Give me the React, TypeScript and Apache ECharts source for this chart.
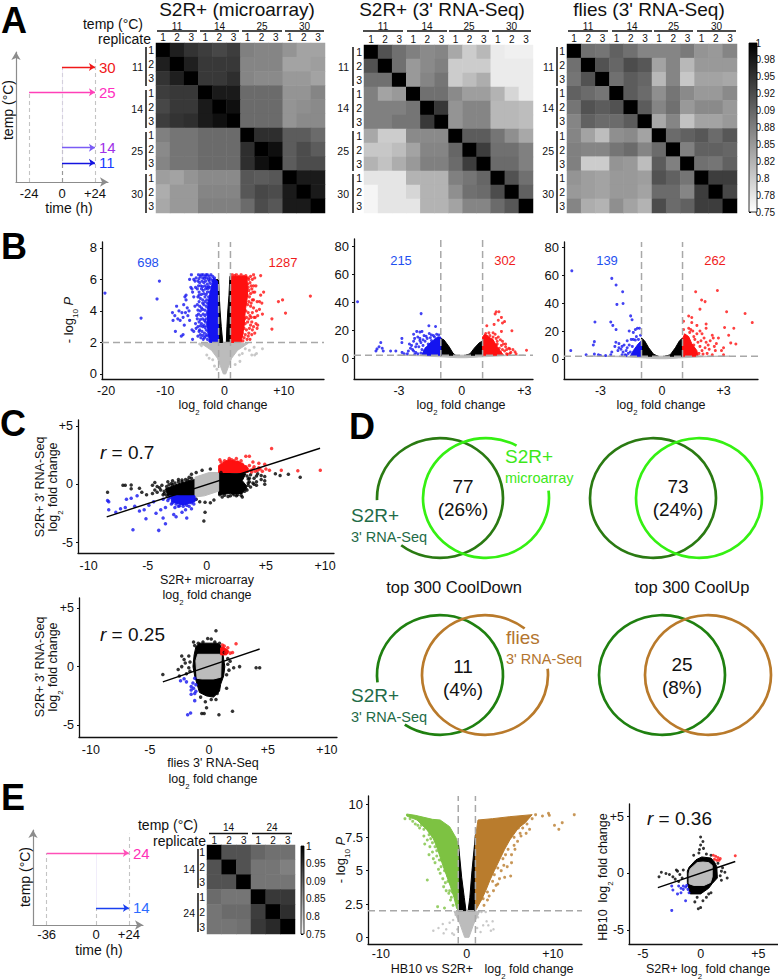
import React, { useEffect, useRef } from "react";
import * as echarts from "echarts";

const FONT = "Liberation Sans, Arial, sans-serif";

// ---------- heatmap values ----------
const replicateLabels = ["1", "2", "3"];
const tempGroupsA = ["11", "14", "25", "30"];
const tempGroupsE = ["14", "24"];
const microarrayCorr = [
  [1, .97, .95, .94, .93, .94, .875, .87, .87, .855, .84, .84],
  [.97, 1, .97, .945, .945, .945, .87, .87, .87, .84, .84, .845],
  [.95, .97, 1, .945, .945, .955, .87, .865, .865, .85, .85, .84],
  [.94, .945, .945, 1, .975, .975, .895, .895, .895, .855, .855, .87],
  [.93, .945, .945, .975, 1, .985, .895, .895, .895, .855, .86, .865],
  [.94, .95, .955, .975, .985, 1, .895, .895, .895, .855, .865, .865],
  [.875, .885, .885, .895, .895, .895, 1, .955, .955, .91, .91, .895],
  [.865, .885, .885, .895, .895, .895, .955, 1, .985, .91, .925, .91],
  [.87, .885, .885, .895, .895, .895, .955, .985, 1, .91, .925, .925],
  [.845, .84, .855, .865, .865, .865, .915, .91, .915, 1, .975, .975],
  [.83, .85, .85, .87, .87, .87, .915, .93, .925, .975, 1, .975],
  [.835, .85, .85, .875, .875, .875, .895, .925, .915, .975, .975, 1],
];
const s2rSeqCorr = [
  [1, .92, .89, .875, .865, .87, .835, .80, .82, .77, .765, .765],
  [.92, 1, .89, .85, .865, .875, .80, .80, .80, .77, .77, .77],
  [.89, .89, 1, .85, .87, .885, .80, .815, .83, .77, .77, .77],
  [.875, .84, .85, 1, .89, .89, .865, .845, .845, .825, .79, .77],
  [.875, .875, .875, .885, 1, .945, .855, .87, .87, .82, .82, .815],
  [.875, .875, .885, .885, .945, 1, .855, .87, .87, .82, .82, .815],
  [.835, .80, .80, .865, .865, .865, 1, .91, .91, .885, .86, .835],
  [.805, .805, .815, .84, .87, .87, .90, 1, .94, .89, .89, .875],
  [.825, .81, .83, .85, .875, .875, .895, .94, 1, .895, .895, .875],
  [.775, .775, .775, .825, .825, .825, .875, .885, .90, 1, .92, .89],
  [.76, .775, .775, .79, .825, .825, .86, .89, .895, .925, 1, .905],
  [.76, .775, .775, .775, .825, .825, .84, .87, .87, .895, .915, 1],
];
const fliesCorr = [
  [1, .89, .885, .905, .89, .87, .87, .87, .88, .855, .85, .87],
  [.89, 1, .92, .90, .925, .915, .84, .87, .82, .85, .85, .85],
  [.885, .92, 1, .89, .91, .90, .82, .87, .805, .84, .84, .835],
  [.905, .895, .885, 1, .91, .895, .86, .885, .865, .85, .85, .865],
  [.885, .92, .91, .92, 1, .91, .87, .89, .85, .865, .865, .85],
  [.87, .905, .895, .895, .91, 1, .835, .87, .81, .84, .84, .85],
  [.87, .84, .815, .86, .865, .84, 1, .895, .905, .915, .895, .915],
  [.875, .87, .87, .885, .895, .87, .895, 1, .875, .905, .905, .90],
  [.875, .80, .80, .855, .85, .815, .91, .875, 1, .89, .885, .905],
  [.855, .845, .84, .85, .85, .845, .92, .905, .885, 1, .94, .94],
  [.85, .845, .84, .85, .85, .84, .895, .895, .87, .94, 1, .93],
  [.87, .83, .825, .86, .84, .825, .925, .895, .905, .94, .94, 1],
];
const hb10Corr = [
  [1, .92, .92, .90, .89, .89],
  [.92, 1, .92, .885, .885, .875],
  [.92, .92, 1, .885, .885, .885],
  [.895, .885, .885, 1, .945, .945],
  [.885, .895, .895, .94, 1, .955],
  [.885, .885, .89, .945, .96, 1],
];
const colorbarTicksA = ["1", "0.98", "0.95", "0.92", "0.09", "0.88", "0.85", "0.82", "0.8", "0.78", "0.75"];
const colorbarTicksE = ["1", "0.95", "0.09", "0.85", "0.8", "0.75"];

// ---------- timelines ----------
const aTemps = [30, 25, 14, 11];
const aStarts = [0, -24, 0, 0];
const aEnd = 24;
const eTemps = [24, 14];
const eStarts = [-36, 0];
const eEnd = 24;
const aTimeTicks = [-24, 0, 24];
const eTimeTicks = [-36, 0, 24];

// ---------- axis ticks ----------
const b1XTicks = [-20, -10, 0, 10];
const b1YTicks = [0, 2, 4, 6, 8];
const b2XTicks = [-3, 0, 3];
const b2YTicks = [0, 20, 40, 60, 80];
const cXTicks = [-10, -5, 0, 5, 10];
const cYTicks = [-5, 0, 5];
const e3XTicks = [-10, 0, 10];
const e3YTicks = [0, 2.5, 5, 7.5, 10];
const e4XTicks = [-5, 0, 5];

// ---------- B1 volcano ----------
const b1GrayCore = [[-.2, 0], [.2, 0], [.7, .5], [1.2, 1], [2.2, 1.5], [4, 1.95], [-4, 1.95], [-2.2, 1.5], [-1.2, 1], [-.7, .5]];
const b1BlackL = [[-1, 2], [-.3, 2], [-.55, 3], [-.75, 4], [-.9, 5], [-1, 6], [-1.4, 6], [-1.1, 4]];
const b1BlackR = [[.3, 2], [1.1, 2], [1.1, 6.2], [.9, 6.2], [.75, 5], [.55, 4], [.4, 3]];
const b1BlueCore = [[-1, 2], [-2.5, 2], [-2.9, 3], [-2.8, 4.5], [-2.3, 5.4], [-1.9, 6.1], [-1.2, 5.9], [-1.1, 4]];
const b1RedCore = [[1.1, 2], [2.8, 2], [3.3, 3], [3.5, 4], [3.9, 5], [3.8, 6.2], [1.2, 6.2]];
const b1Gray = [[3, 1.8], [3.5, 1.6], [4.2, 1.5], [5, 1.7], [5.4, 1.3], [6.4, 1.6], [-2.5, 1.9], [-3.3, 1.9], [-3.9, 1.8], [-4.2, 1.9], [-2, .9], [-2.6, 1], [-3, 1.2], [2.5, 1.2], [-1.7, .5], [1.8, .6], [3, 1.3], [2.6, .8], [-1.3, .3], [5.1, 1.2], [4.6, 1.2]];
const b1Blue = [[-20.2, 5.14], [-11, 5.9], [-11.4, 4.76], [-14.1, 3.55], [-8.8, 3.9], [-8.7, 3.4], [-8.4, 3.7], [-8.1, 4.3], [-7.9, 3.5], [-7.7, 4], [-7.5, 3.4], [-7.2, 3.9], [-7, 3.6], [-6.9, 4.4], [-6.8, 3.1], [-6.6, 3.9], [-6.5, 4.7], [-6.3, 4.2], [-6.2, 3.7], [-6, 4], [-5.9, 3.4], [-7, 2.5], [-7.3, 2.4], [-8.3, 2.7], [-5.5, 2.8], [-5.2, 2.7], [-5.7, 5.5], [-5.6, 6.3], [-5.9, 6], [-5.4, 5.2], [-5.2, 6], [-5, 5.9], [-4.8, 6.1], [-5.5, 5.4], [-4.9, 5.5], [-5.2, 4.9], [-6.5, 5], [-6.7, 4.9], [-5, 4.3], [-4.9, 3.2], [-4.7, 3.7], [-4.8, 2.9], [-4.5, 2.4], [-4.3, 2.7], [-5.4, 2.2], [-4.4, 6.3], [-4.1, 6.2], [-3.9, 6.3], [-3.6, 6.3], [-3.3, 6.2], [-3.1, 6.3], [-2.9, 6.3], [-2.6, 6.2], [-2.3, 6.3], [-2, 6.2], [-1.7, 6.1], [-4.5, 5.9], [-4.2, 5.8], [-3.8, 5.9], [-3.5, 5.8], [-3.2, 5.9], [-2.9, 5.7], [-2.6, 5.9], [-4.6, 5.4], [-4.3, 5.2], [-3.9, 5.4], [-3.6, 5.3], [-3.2, 5.4], [-2.9, 5.2], [-2.5, 5.5], [-4.5, 4.9], [-4.1, 4.8], [-3.7, 4.7], [-3.3, 4.9], [-3, 4.7], [-2.7, 4.9], [-4.6, 4.4], [-4.2, 4.3], [-3.9, 4.2], [-3.5, 4.4], [-3.1, 4.3], [-2.8, 4.2], [-4.4, 3.8], [-4, 3.7], [-3.6, 3.8], [-3.3, 3.7], [-3, 3.8], [-2.7, 3.6], [-4.3, 3.3], [-3.9, 3.2], [-3.5, 3.1], [-3.2, 3.3], [-2.9, 3.2], [-4.2, 2.8], [-3.8, 2.7], [-3.4, 2.6], [-3.1, 2.8], [-2.8, 2.7], [-4, 2.3], [-3.6, 2.2], [-3.2, 2.4], [-2.9, 2.2], [-2.5, 2.1],
  [-4.3, 6.05], [-3.7, 6.1], [-3.4, 6.05], [-3, 6.1], [-2.7, 6], [-2.4, 6.05], [-2.1, 5.95], [-4.4, 5.6], [-4, 5.6], [-3.7, 5.55], [-3.3, 5.6], [-3, 5.5], [-2.7, 5.55], [-2.4, 5.75], [-4.3, 5], [-3.9, 5.05], [-3.5, 5.1], [-3.1, 5.05], [-2.8, 5.4], [-2.5, 5.2], [-4.3, 4.6], [-3.7, 4.5], [-3.3, 4.6], [-2.9, 4.5], [-4.5, 4.05], [-4.1, 4], [-3.7, 4.1], [-3.3, 4.05], [-2.9, 3.95], [-4.6, 3.5], [-4.1, 3.45], [-3.7, 3.5], [-3.4, 3.4], [-3.1, 3.5], [-4.5, 3], [-4.1, 3.05], [-3.7, 3], [-3.3, 2.95], [-3, 3.05], [-4.1, 2.5], [-3.7, 2.45], [-3.4, 2.3], [-3, 2.5], [-2.7, 2.4]];
const b1Red = [[1.3, 6.3], [1.7, 6.25], [2, 6.3], [2.4, 6.2], [2.8, 6.3], [3.2, 6.2], [3.6, 6.25], [4, 6.1], [4.4, 6.2], [4.9, 6.3], [5.1, 6.1], [4.7, 6], [6.1, 6.25], [3.9, 5.7], [4.3, 5.8], [4.1, 5.3], [4.6, 5.4], [3.8, 5], [4.2, 4.9], [4.7, 4.7], [5.1, 5.2], [5.5, 4.6], [5.9, 4.6], [5.3, 5.6], [6.1, 5], [6.6, 5.2], [6.3, 4.5], [4.4, 4.3], [4.9, 4.2], [5.4, 4], [5.9, 4.1], [5.2, 3.6], [5.6, 3.7], [6.4, 3.8], [3.6, 4], [4, 3.9], [4.5, 3.6], [3.4, 3.5], [3.9, 3.3], [4.4, 3.1], [4.9, 3], [5.3, 3.2], [5.6, 3.1], [3.3, 2.9], [3.7, 2.8], [4.1, 2.6], [4.6, 2.5], [5.1, 2.6], [5.5, 2.9], [2.9, 2.4], [3.3, 2.3], [3.8, 2.2], [4.3, 2.2], [3.1, 2.1], [9.1, 4.6], [9.8, 4.7], [14.5, 4.95], [10.3, 3.87], [8, 3.5], [8, 2.85],
  [4.1, 6], [4.5, 5.6], [4.9, 5.6], [4, 5.5], [4.4, 5.1], [4.8, 5.2], [4.1, 4.6], [4.5, 4.5], [4.9, 4.7], [3.9, 4.4], [4.3, 3.7], [4.7, 3.9], [3.7, 3.6], [4.1, 3.5], [4.6, 3.3], [5, 3.6], [3.5, 3.2], [4.2, 2.9], [4.7, 2.8], [3.5, 2.5], [4, 2.4], [3, 2.6]];

// ---------- B2 volcano ----------
const b2GrayCore = [[-3.1, 2], [3, 2], [2, 1.6], [.8, .7], [.2, .2], [-.2, .2], [-.8, .7], [-2, 1.6]];
const b2BlackL = [[-1, 2], [-1, 14], [-.85, 13], [-.6, 8], [-.42, 3.5], [-.3, 2]];
const b2BlackR = [[1, 2], [1, 12], [.85, 11], [.6, 7], [.4, 3], [.2, 2]];
const b2BlueCore = [[-1, 2], [-1.9, 2], [-1.8, 6], [-1.5, 11], [-1.15, 15], [-1, 15]];
const b2RedCore = [[1, 2], [2, 2], [1.7, 8], [1.5, 13], [1.1, 17], [1, 15]];
const b2Blue = [[-4.98, 40.2], [-1.94, 31.7], [-1.57, 23], [-1.25, 22.5], [-2.86, 14], [-2.86, 11], [-3.87, 11], [-3.95, 8], [-4.05, 6.5], [-4.1, 5], [-3.75, 5], [-3.8, 7], [-3.4, 5], [-3.15, 5], [-2.85, 4], [-2.75, 3], [-2.55, 5], [-2.45, 7], [-2.4, 9], [-2.3, 12], [-2.3, 17], [-2.15, 19], [-2, 18.5], [-1.9, 19], [-2.1, 15], [-2, 14], [-1.95, 11], [-2.05, 8], [-1.9, 6], [-2.2, 4], [-2.1, 3], [-1.95, 3.5], [-1.75, 12], [-1.65, 14], [-1.8, 16], [-1.6, 10], [-1.5, 14.5], [-1.35, 16], [-1.2, 17], [-1.1, 16.5], [-1.45, 12.5], [-1.3, 15], [-2.35, 6], [-2.5, 10], [-2.25, 14], [-1.55, 17.5], [-1.7, 7], [-1.85, 9], [-2.6, 3], [-2.25, 2.5], [-2.15, 10], [-2.2, 8], [-2.3, 5], [-2, 12.5], [-1.85, 13], [-1.7, 15.5], [-1.45, 16.5]];
const b2Red = [[1.65, 33], [1.78, 33], [1.6, 31.5], [1.9, 29], [2.05, 26], [1.75, 27], [1.95, 25], [1.55, 24], [1.2, 23], [2.4, 19.5], [1.9, 19], [1.5, 18], [1.6, 17], [1.3, 18], [1.15, 17.5], [1.75, 15], [1.85, 13], [1.65, 14], [1.95, 12], [2, 10], [1.9, 9], [2.1, 8], [2.25, 7], [2.3, 6.5], [2.45, 6], [2.55, 4.5], [2.6, 3], [1.95, 6], [1.85, 4], [2.05, 5], [2.15, 3], [2.35, 4], [2.2, 2.5], [1.7, 10], [1.8, 7], [1.7, 12], [3.1, 5.5], [1.5, 15], [1.35, 16], [1.45, 13], [1.65, 9], [1.2, 15.5], [2.15, 6], [2.1, 10], [2.3, 3.2]];

// ---------- B3 volcano ----------
const b3GrayCore = [[-3.5, 2], [3.3, 2], [2, 1.6], [.8, .7], [.2, .2], [-.2, .2], [-.8, .7], [-2, 1.6]];
const b3BlackL = [[-1, 2], [-1, 15], [-.85, 13], [-.65, 8], [-.42, 3.5], [-.2, 2]];
const b3BlackR = [[1, 2], [1, 15], [.85, 13], [.65, 8], [.4, 3], [.15, 2]];
const b3BlueCore = [[-1, 2], [-1.55, 2], [-1.4, 6], [-1.15, 11], [-1, 13]];
const b3RedCore = [[1, 2], [1.75, 2], [1.7, 6], [1.45, 11], [1.3, 16], [1.1, 18], [1, 14]];
const b3Blue = [[-4.4, 63], [-2.45, 57.6], [-2.24, 52.9], [-1.92, 48], [-2.2, 39], [-1.9, 39.7], [-1.53, 30.8], [-1.46, 28], [-3.27, 26.4], [-2.5, 26.4], [-2.4, 24], [-2.24, 21], [-4.45, 6], [-3.3, 12.4], [-3.35, 10], [-3.7, 3], [-3.3, 3.5], [-3.1, 3], [-3, 2.5], [-2.75, 2.5], [-2.5, 3], [-2.45, 5], [-2.25, 12], [-2.1, 11], [-2.1, 8], [-2, 7], [-2.15, 6], [-1.95, 9], [-1.85, 10], [-1.75, 6], [-1.7, 8], [-1.65, 4], [-1.8, 3], [-1.55, 5], [-1.6, 20], [-1.4, 19], [-1.3, 21], [-1.2, 22], [-1.1, 22], [-1.5, 14], [-1.4, 14], [-1.3, 13.5], [-1.15, 14], [-1.05, 17], [-1.25, 16], [-1.7, 13], [-1.6, 10], [-1.45, 9], [-2.3, 9], [-1.9, 5], [-1.75, 2.5], [-1.95, 3]];
const b3Red = [[1.64, 48], [2.7, 48.9], [1.93, 42.2], [2.1, 41], [1.85, 35.6], [3.15, 33.8], [4.05, 32.5], [4.4, 26], [1.3, 30.7], [1.45, 29.6], [1.05, 27], [1.45, 26], [1.7, 24], [2.15, 25], [2.15, 22], [3.05, 22.5], [3.5, 22], [3.25, 17], [3.35, 11.5], [3.6, 10.7], [3, 8], [2.9, 6], [2.5, 15], [2.75, 15], [2.45, 17], [2.35, 13], [2.1, 8], [2.3, 7], [2.6, 6], [3, 3], [1.3, 22], [1.4, 21], [1.35, 19], [1.5, 20], [1.7, 18], [1.85, 20], [1.95, 18], [2.05, 15], [1.9, 13], [1.75, 12], [2.15, 12], [2.25, 10], [1.85, 9], [1.95, 6], [1.8, 4], [2, 3.5], [2.2, 4], [2.45, 3], [2.55, 9], [2.65, 11], [1.55, 16], [1.6, 14], [1.55, 10], [1.05, 21]];

// ---------- C1 scatter ----------
const c1Line = [[-8.47, -2.8], [9.58, 3.08]];
const c1GrayCore = [[-1, -1.1], [-.2, -1], [1, -.6], [1, 1], [.2, 1], [-1, .6]];
const c1BlackL = [[-1, -1.1], [-2.5, -1], [-3.3, -1], [-3.5, -.4], [-2.5, 0], [-1.5, .3], [-1, .4]];
const c1BlackR = [[1, -.9], [2, -.8], [3, -.8], [3.4, -.2], [3, .3], [3.3, .9], [1, 1]];
const c1RedCore = [[1, 1], [3.5, 1], [3.5, 1.4], [2.8, 1.9], [1.8, 2.1], [1, 1.6]];
const c1BlueCore = [[-1, -1], [-3, -1], [-3, -1.5], [-2, -1.8], [-1, -1.5]];
const c1Red = [[5.48, 3.05], [9.6, 1.2], [7.7, 1.15], [6.3, 1.2], [3.3, 2.4], [3.6, 2.4], [1.1, 2.1], [2.9, 2], [3.9, 1.9], [4.4, 1.8], [4.9, 1.7], [4.5, 1.3], [5, 1.3], [5.3, 1.2], [4, 1.5], [3.7, 1.2], [4.3, 1.2], [2.5, 2.2], [1.9, 2.2], [1.2, 1.9], [1.5, 2], [2.1, 2.1], [2.3, 2], [2.6, 1.9], [3, 1.7], [3.3, 1.5], [3.6, 1.6], [3.9, 1.3], [4.1, 1.1], [3.8, 1.05], [4.4, 1.4], [4.7, 1.1]];
const c1Blue = [[-6.25, -3.9], [-4.07, -3.96], [-3.5, -3.4], [-5.15, -2.96], [-8.4, -1.4], [-8.3, -1.5], [-8.3, -2.2], [-7.7, -2.4], [-7.3, -2.1], [-6.9, -2], [-6.8, -1.3], [-6.4, -1.2], [-5.9, -1], [-6.1, -1.9], [-5.7, -2.3], [-5.3, -2.2], [-4.9, -1.8], [-4.5, -1.5], [-4.3, -2.5], [-3.9, -2.2], [-3.7, -2.9], [-2.8, -2.6], [-2.6, -2.8], [-1.7, -2.9], [-3.5, -2], [-3, -1.7], [-1.8, -2.2], [-1.3, -2.1], [-2.1, -2.4], [-1.1, -1.7], [-2.4, -1.9], [-3.2, -1.2], [-3.7, -1.3], [-1.5, -1.9], [-2.7, -2], [-3.1, -1.1], [-2.9, -1.6], [-2.6, -1.7], [-2.3, -1.85], [-2, -1.9], [-1.7, -1.8], [-1.3, -1.6], [-1, -1.3], [-3.3, -1.4]];
const c1Black = [[-8.4, -.7], [-7.1, -.1], [-6.9, -.1], [-6.4, -.08], [-6.4, -.4], [-5.7, -.35], [-5.5, -.7], [-5.1, -.9], [-4.6, -.1], [-4.4, .15], [-4.2, -.2], [-3.9, -.5], [-3.6, -.8], [-3.8, -.1], [-4.6, -.8], [-3.3, .2], [-2.9, .3], [-2.4, .4], [-2.1, .2], [-1.5, .6], [-1.3, .85], [-.25, -3.16], [-.15, -2.4], [-.15, -1.55], [.6, -1.35], [.3, -1.6], [-.6, -1.5], [-.9, -1.3], [4.9, .65], [5.8, .9], [6.2, .75], [6.9, .85], [7.9, .6], [4.9, 0], [4, 0], [2.2, -.8], [3.6, .5], [4.2, .7], [4.6, .4], [3.3, -.4], [3, -1.1], [2.5, -1], [1.8, -1.05], [4.9, .3], [4.2, .2], [3.5, .1], [3.7, -.25], [1.3, -1.1], [1.1, -.9], [-.4, 1.2], [-.9, 1], [.3, 1.3], [-3.6, -.6], [-3.4, -.2], [-3.2, -.05], [-3, .05], [-2.7, .1], [-2.4, .2], [-2.1, .35], [-1.8, .4], [-1.6, .35], [-1.3, .5], [-3.7, -.9], [-3.4, -.95], [-4.2, -.7], [-4, -.3], [-4.4, -.5], [-2.9, -.05], [1.2, 1], [1.5, -.95], [2, -1], [2.3, -.9], [2.6, -.9], [2.9, -.95], [3.2, -.6], [3.4, -.5], [3.5, -.1], [3.6, .2], [3.4, .7], [3.7, .8], [4, .5], [4.3, .9], [4.6, .75], [3.9, .1], [4.2, -.1], [3.1, -.3], [3.5, .45]];

// ---------- C2 scatter ----------
const c2Line = [[-3.9, -1.3], [4.3, 1.5]];
const c2BlackCore = [[-.8, 2], [.7, 2], [1, 1.8], [1.2, 1], [1.35, 0], [1.25, -.8], [1, -1.5], [.9, -2.1], [.4, -2.6], [-.2, -2.5], [-.8, -2.2], [-1, -1.5], [-1.2, -.8], [-1.35, 0], [-1.25, 1], [-1.1, 1.7]];
const c2GrayCore = [[-1, -1], [-.6, -1.05], [.4, -1.05], [1, -.9], [1.05, 1], [.9, 1.05], [-.95, 1.05], [-1.1, .5]];
const c2RedCore = [[1, 1], [1.5, 1], [1.7, 1.3], [1.2, 1.7], [1, 1.6]];
const c2Red = [[2.3, 1.95], [1.3, 1.75], [1.6, 1.6], [2, 1.2], [1.1, 1.5], [1.4, 1.2], [1.8, 1.15], [1.15, 1.85], [1.5, 1.35]];
const c2Blue = [[-1.8, -4.1], [-1.55, -3.96], [-1.2, -2.9], [-1.5, -2.35], [-1.2, -2.3], [-1.5, -1.7], [-1.35, -1.4], [-1.9, -1.3], [-2.1, -1.03], [-2.4, -1.2], [-1.2, -1], [-1.5, -2], [-1.3, -1.85], [-1.1, -1.55], [-1.1, -2.1]];
const c2Black = [[-3.9, -.68], [-2.5, -.8], [-2.6, -.25], [-2.3, 0], [-2.3, .9], [-2.1, .6], [-1.7, -.1], [-1.6, -.4], [2.6, 0], [4, -.1], [4.3, -.1], [2.1, -.1], [1.8, .45], [.6, 3.05], [-.1, 2.4], [.2, 2.35], [-1.3, 2.1], [-1.2, 1.8], [-.6, -4], [-.4, -4], [-.2, -3.5], [.85, -4.1], [2, -3.8], [.2, -2.8], [.6, -2.8], [1.5, -1.85], [-.3, -3], [.7, -2.3], [-.7, -2.6], [-1.6, .4], [-1.7, .9], [-2, .3], [-1.9, -.6], [1.7, -.3], [1.6, .2], [1.5, -.7], [1.6, .7], [1.3, 1.2], [-.5, 2.1], [.5, 2.1], [-.9, 2], [.9, 2]];

// ---------- E volcano ----------
const e3GrayCore = [[-1.5, 1.95], [1.5, 1.95], [.8, 1], [.25, 0], [-.25, 0], [-.8, 1]];
const e3BlackL = [[-1, 2], [-.1, 2], [-.3, 3], [-.6, 4.5], [-.9, 6.5], [-1, 7.2]];
const e3BlackR = [[.15, 2], [1, 2], [1, 7.7], [.9, 7], [.6, 5], [.35, 3]];
const e3GreenCore = [[-7, 9.25], [-6, 9.15], [-5, 9], [-4, 8.85], [-3.1, 8.8], [-2, 8.3], [-1.2, 7.4], [-1, 6.8], [-1, 2], [-1.2, 2.2], [-1.5, 3], [-1.9, 3.8], [-2.4, 4.7], [-2.9, 5.6], [-3.4, 6.6], [-3.9, 7.4], [-4.7, 8.1], [-5.8, 8.8], [-7, 9.1]];
const e3BrownCore = [[1, 2], [1, 7.5], [1.3, 8.8], [3, 8.9], [5, 9.05], [7.6, 9.2], [6.8, 8.6], [6, 8.2], [5, 7.3], [4.4, 6.6], [3.8, 5.8], [3.2, 5], [2.7, 4.3], [2.2, 3.5], [1.7, 2.8], [1.1, 2.1]];
const e3Green = [[-7.2, 8.9], [-4.6, 4.3], [-3.4, 2.3], [-2.6, 2.2], [-5, 7.6], [-4.9, 7], [-4.6, 7.3], [-4.3, 6.8], [-4.4, 6.2], [-4, 6.4], [-3.9, 5.9], [-3.7, 5.6], [-3.5, 6.1], [-3.3, 5.1], [-3.1, 4.8], [-3, 5.3], [-2.8, 4.4], [-2.5, 4.1], [-2.4, 3.5], [-2.1, 3.3], [-1.9, 2.8], [-1.8, 3], [-1.6, 2.4], [-6, 8.5], [-5.5, 8.2], [-5.3, 8.4], [-4.2, 7.4], [-3.7, 6.8], [-3.2, 5.8], [-2.7, 3.8], [-2.2, 4.2], [-2, 3.5], [-6.6, 8.9], [-6.3, 8.7], [-5.7, 8.4], [-5, 8.1], [-4.4, 7.7], [-4, 7.1], [-3.5, 6.5], [-3, 5.8], [-2.6, 5], [-2.2, 4.6], [-1.7, 3.4]];
const e3Brown = [[9.5, 9.3], [9.6, 9.15], [8.8, 9.1], [8, 9.2], [7.6, 8.9], [12.5, 9.2], [11.1, 8.6], [10.7, 8.1], [10.2, 8.4], [7.3, 8.1], [6.9, 7.8], [6.3, 7.6], [5.9, 7.2], [5.6, 6.6], [5.2, 6.2], [5.2, 5.6], [5.1, 4.6], [4.4, 4.5], [3.8, 4.4], [4.7, 5.3], [4.3, 5.4], [4, 5], [3.6, 4], [3.4, 3.9], [3.1, 3.5], [3.2, 4.7], [2.6, 3.1], [2.4, 2.8], [2, 2.4], [1.9, 2.9], [5.5, 7.5], [6.5, 8.2], [7, 8.5], [6, 8.2], [4.5, 6.2], [4.8, 6.6], [4.2, 5.9], [3.6, 5.2], [3, 4.2], [2.4, 3.4], [5.5, 6.9], [6.2, 7.8]];
const e3Gray = [[-3.9, .5], [-3.3, .7], [-2.8, 1], [-2.4, .6], [-2, 1.1], [-1.7, .3], [-1.5, .2], [-1.1, .6], [-1.6, 1.3], [-1.3, 1.7], [1.3, 1.5], [1.7, 1.9], [2.2, 1.9], [2.3, 1.2], [1.9, .9], [2.5, .9], [3, 1.2], [3.1, .6], [1.6, .4], [1.2, .7], [-.8, 1.8], [-2.7, .3], [2.8, .5]];

// ---------- E scatter ----------
const e4Line = [[-3.7, -1.25], [3, 1.05]];
const e4BlackCore = [[-.9, -1.8], [0, -1.8], [.7, -1.3], [1, -.9], [1.45, -.4], [1.4, .6], [1.2, 1], [.9, 1.35], [.1, 1.45], [-.4, 1.2], [-1, .55], [-1.15, .2], [-1.15, -.8]];
const e4GrayCore = [[-1, -.9], [-.6, -1.05], [.3, -1.05], [.85, -.8], [1, -.3], [1, .7], [.7, .95], [.2, 1], [-.3, .95], [-.9, .4], [-1, 0]];
const e4Red = [[3, 1.55], [1.1, 1.6], [1.3, 1.5], [1.5, 1.4], [1.2, 1.25], [1.4, 1.15], [1.7, 1.3], [1.6, 1.15]];
const e4Blue = [[-2.5, -3.25], [-1.3, -2.4], [-2, -1.8], [-2.5, -1.1], [-2.4, -1.45], [-1.7, -1.7], [-1.9, -1.1], [-1.7, -1.3], [-1.5, -1.4], [-1.3, -1.2], [-1.1, -1.4], [-1.2, -1.05], [-1.5, -1.1], [-1, -1.7]];
const e4Black = [[0, 3.2], [.2, 2.8], [0, 2.5], [-.1, 2.1], [.25, 2.2], [-.15, 1.8], [.5, 1.7], [.9, 1.6], [-.6, 1.6], [-3.6, -.3], [-3.4, .1], [-3, 0], [-2.7, -.1], [-2.4, -.3], [-2.2, -.5], [-2.1, .3], [-2, .2], [-1.8, -.1], [-1.9, -.7], [-1.5, .3], [-1.6, -.4], [-.2, -3.1], [0, -3], [-.5, -2.5], [.2, -2.4], [-.3, -2.1], [.5, -2.1], [.7, -1.8], [.9, -1.7], [2.1, .1], [2.3, -.4], [1.8, .2], [1.7, -.2], [1.9, .5], [1.5, .9], [1.8, -.6]];

const signed = (v: number) => (v > 0 ? `+${v}` : `${v}`);
const plain = (v: number) => `${v}`;

const TINK = "#111";
const BLUE = "#1414f0";
const RED = "#ff1010";
const GRAY = "#bcbcbc";
const BLACK = "#000";
const GREEN = "#7dc242";
const BROWN = "#b97c2d";
const DASH = "#a8a8a8";

function buildOption() {
  const grid: any[] = [];
  const xAxis: any[] = [];
  const yAxis: any[] = [];
  const series: any[] = [];
  const graphic: any[] = [];
  const heatSeries: number[] = [];

  const T = (x: number, y: number, text: string, o: any = {}) => {
    graphic.push({
      type: "text", x, y, rotation: o.rot || 0, silent: true, z: 10,
      style: {
        text, fill: o.color || TINK, fontFamily: FONT, fontSize: o.size || 13,
        fontWeight: o.weight || "normal", fontStyle: o.italic ? "italic" : "normal",
        align: o.align || "center", verticalAlign: o.va || "middle", rich: o.rich,
      },
    });
  };
  const R = (size: number, color = TINK) => ({
    n: { fontSize: size, fontFamily: FONT, fill: color },
    i: { fontSize: size, fontFamily: FONT, fontStyle: "italic", fill: color },
    s: { fontSize: size * 0.62, fontFamily: FONT, fill: color, verticalAlign: "bottom", padding: [0, 0, -5, 0] },
  });
  const LOG2 = "{n|log}{s|2}{n| fold change}";
  const BAR = (x1: number, y1: number, x2: number, y2: number, w = 1.5, c = TINK) =>
    graphic.push({ type: "line", silent: true, z: 10, shape: { x1, y1, x2, y2 }, style: { stroke: c, lineWidth: w } });

  const addGrid = (r: number[], xa: any, ya: any) => {
    grid.push({ left: r[0], top: r[1], width: r[2] - r[0], height: r[3] - r[1], containLabel: false });
    xAxis.push({ gridIndex: grid.length - 1, ...xa });
    yAxis.push({ gridIndex: grid.length - 1, ...ya });
    return grid.length - 1;
  };
  const valueAxis = (min: number, max: number, ticks: number[], fmt: any, size: number, margin: number, tick: boolean) => ({
    type: "value", min, max, splitLine: { show: false },
    axisLine: { show: true, onZero: false, lineStyle: { color: TINK, width: 1.3 } },
    axisTick: { show: tick, length: 2, customValues: ticks, lineStyle: { color: TINK } },
    axisLabel: { customValues: ticks, formatter: fmt, fontFamily: FONT, fontSize: size, color: TINK, margin },
  });

  const scatter = (g: number, data: number[][], color: string, size: number) =>
    series.push({ type: "scatter", xAxisIndex: g, yAxisIndex: g, data, symbolSize: size, itemStyle: { color }, silent: true });
  const blob = (g: number, pts: number[][], color: string) =>
    series.push({
      type: "custom", xAxisIndex: g, yAxisIndex: g, data: pts, silent: true, encode: { x: 0, y: 1 },
      renderItem: (p: any, api: any) =>
        p.dataIndex === 0
          ? { type: "polygon", shape: { points: pts.map((q) => api.coord(q)) }, style: { fill: color, stroke: color, lineWidth: 1 } }
          : null,
    });
  const seg = (g: number, data: number[][], color: string, width: number, dash?: number[]) =>
    series.push({
      type: "line", xAxisIndex: g, yAxisIndex: g, data, showSymbol: false, silent: true,
      lineStyle: { color, width, type: dash || "solid" },
    });
  const thresholds = (g: number, xlo: number, xhi: number, ylo: number, yhi: number, yv = 2) => {
    seg(g, [[-1, ylo], [-1, yhi]], DASH, 1.5, [7, 4]);
    seg(g, [[1, ylo], [1, yhi]], DASH, 1.5, [7, 4]);
    seg(g, [[xlo, yv], [xhi, yv]], DASH, 1.5, [7, 4]);
  };

  // heatmaps
  const heat = (r: number[], matrix: number[][], groups: string[], xMargin: number) => {
    const cats = groups.flatMap(() => replicateLabels);
    const g = addGrid(
      r,
      {
        type: "category", position: "top", data: cats.map((c) => ({ value: c })), axisLine: { show: false }, axisTick: { show: false },
        axisLabel: { interval: 0, fontFamily: FONT, fontSize: 10, color: TINK, margin: xMargin },
      },
      {
        type: "category", inverse: true, data: cats.map((c) => ({ value: c })), axisLine: { show: false }, axisTick: { show: false },
        axisLabel: { interval: 0, fontFamily: FONT, fontSize: 10.5, color: TINK, margin: 2 },
      },
    );
    const data: number[][] = [];
    matrix.forEach((row, yi) => row.forEach((v, xi) => data.push([xi, yi, v])));
    heatSeries.push(series.length);
    series.push({ type: "heatmap", xAxisIndex: g, yAxisIndex: g, data, silent: true, itemStyle: { borderWidth: 0 } });
  };

  heat([156, 43, 325, 213], microarrayCorr, tempGroupsA, 1);
  heat([364, 45, 533, 213], s2rSeqCorr, tempGroupsA, 1);
  heat([567, 44, 737, 213], fliesCorr, tempGroupsA, 1);
  heat([207, 845, 295, 934], hb10Corr, tempGroupsE, 0);

  const groupTop = (spans: number[][], labels: string[], yLabel: number, yBar: number) =>
    spans.forEach((s, i) => {
      T((s[0] + s[1]) / 2, yLabel, labels[i], { size: 10 });
      BAR(s[0], yBar, s[1], yBar);
    });
  const groupLeft = (spans: number[][], labels: string[], xBar: number, xLabel: number) =>
    spans.forEach((s, i) => {
      BAR(xBar, s[0], xBar, s[1]);
      T(xLabel, (s[0] + s[1]) / 2, labels[i], { size: 10.5, align: "right" });
    });
  groupTop([[157, 197], [200, 239], [242, 282], [285, 324]], tempGroupsA, 26, 31);
  groupTop([[363, 403], [407, 447], [449, 489], [492, 531]], tempGroupsA, 26, 31);
  groupTop([[568, 608], [612, 652], [654, 693], [697, 736]], tempGroupsA, 26, 31);
  groupTop([[209, 248], [252, 292]], tempGroupsE, 827, 833.5);
  groupLeft([[47, 86], [90, 128], [132, 170], [174, 213]], tempGroupsA, 146, 143);
  groupLeft([[47, 86], [88, 128], [131, 171], [174, 213]], tempGroupsA, 353, 349);
  groupLeft([[47, 86], [88, 128], [131, 171], [174, 213]], tempGroupsA, 557, 554);
  groupLeft([[849, 888], [893, 932]], tempGroupsE, 198, 195);

  // colourbars
  const colorbar = (r: number[], ticks: string[]) => {
    graphic.push({
      type: "rect", silent: true, z: 5, shape: { x: r[0], y: r[1], width: r[2] - r[0], height: r[3] - r[1] },
      style: {
        stroke: "#000", lineWidth: 0.8,
        fill: new echarts.graphic.LinearGradient(0, 0, 0, 1, [{ offset: 0, color: "#000" }, { offset: 1, color: "#fff" }]),
      },
    });
    addGrid(
      r,
      { type: "value", min: 0, max: 1, show: false },
      {
        type: "category", position: "right", inverse: true, boundaryGap: false, data: ticks,
        axisLine: { show: false }, axisTick: { show: true, length: 2, lineStyle: { color: "#000" } },
        axisLabel: { interval: 0, fontFamily: FONT, fontSize: 10, color: TINK, margin: 2 },
      },
    );
  };
  colorbar([749, 43, 757, 212], colorbarTicksA);
  colorbar([301, 846, 304, 934], colorbarTicksE);

  // timelines
  const timeline = (
    r: number[], xr: number[], yr: number[], ticks: number[], temps: number[], starts: number[], end: number,
    colors: string[], labelColors: string[], yTop: number, labelX: number, margin: number,
  ) => {
    const axisCol = "#8c8c8c";
    const xa = {
      type: "value", min: xr[0], max: xr[1], splitLine: { show: false },
      axisLine: { show: true, onZero: false, symbol: ["none", "arrow"], symbolSize: [7, 8], lineStyle: { color: axisCol, width: 1.2 } },
      axisTick: { show: false },
      axisLabel: { customValues: ticks, formatter: signed, fontFamily: FONT, fontSize: 13, color: TINK, margin },
    };
    const ya = {
      type: "value", min: yr[0], max: yr[1], splitLine: { show: false },
      axisLine: { show: true, onZero: false, symbol: ["none", "arrow"], symbolSize: [7, 8], lineStyle: { color: axisCol, width: 1.2 } },
      axisTick: { show: false }, axisLabel: { show: false },
    };
    const g = addGrid(r, xa, ya);
    const dashes: any[] = starts.map((s, i) => ({ coords: [[s, yr[0]], [s, temps[i]]] }));
    dashes.push({ coords: [[end, yr[0]], [end, yTop]] });
    series.push({
      type: "lines", coordinateSystem: "cartesian2d", xAxisIndex: g, yAxisIndex: g, silent: true, symbol: "none",
      data: dashes, lineStyle: { color: "#8a8a8a", width: 1.1, type: [4, 3] },
    });
    series.push({
      type: "lines", coordinateSystem: "cartesian2d", xAxisIndex: g, yAxisIndex: g, silent: true, symbol: "none",
      data: [{ coords: [[0, Math.min(...temps)], [0, Math.max(...temps)]] }], lineStyle: { color: "#e3dcf5", width: 1 },
    });
    temps.forEach((t, i) => {
      series.push({
        type: "lines", coordinateSystem: "cartesian2d", xAxisIndex: g, yAxisIndex: g, silent: true,
        symbol: ["none", "arrow"], symbolSize: 6, data: [{ coords: [[starts[i], t], [end, t]] }],
        lineStyle: { color: colors[i], width: 1.3, opacity: 1 },
      });
    });
    temps.forEach((t, i) => {
      const y = r[3] - ((t - yr[0]) / (yr[1] - yr[0])) * (r[3] - r[1]);
      T(labelX, y, String(t), { size: 15, align: "left", color: labelColors[i] });
    });
  };
  timeline([16, 52, 108, 182], [-33.5, 33.5], [7.2, 33], aTimeTicks, aTemps, aStarts, aEnd,
    ["#f01818", "#ff40b8", "#7a5cf5", "#1414e0"], ["#f01818", "#ff30c0", "#a030e8", "#1a3cff"], 32, 99, 5);
  timeline([33, 830, 143, 925], [-46, 34.3], [10.9, 28.2], eTimeTicks, eTemps, eStarts, eEnd,
    ["#ff50b8", "#1a40f0"], ["#ff30b8", "#2c6cff"], 27.5, 133, 3);

  const TS = 12.5;
  // B volcanoes
  let g = addGrid([102, 242, 324, 379], valueAxis(-20.7, 16.8, b1XTicks, signed, TS, 5, false), valueAxis(-.32, 8.38, b1YTicks, plain, 13, 5, true));
  thresholds(g, -20.7, 16.8, -.32, 8.38);
  blob(g, b1GrayCore, GRAY); scatter(g, b1Gray, GRAY, 3);
  blob(g, b1BlackL, BLACK); blob(g, b1BlackR, BLACK);
  blob(g, b1BlueCore, BLUE); blob(g, b1RedCore, RED);
  scatter(g, b1Blue, BLUE, 3.2); scatter(g, b1Red, RED, 3.2);

  g = addGrid([354, 239, 533, 379], valueAxis(-5.15, 3.41, b2XTicks, signed, TS, 5, false), valueAxis(-15, 85, b2YTicks, plain, 13, 5, true));
  blob(g, b2GrayCore, GRAY);
  blob(g, b2BlackL, BLACK); blob(g, b2BlackR, BLACK);
  blob(g, b2BlueCore, BLUE); blob(g, b2RedCore, RED);
  scatter(g, b2Blue, BLUE, 3); scatter(g, b2Red, RED, 3);
  thresholds(g, -5.15, 3.41, -15, 85);

  g = addGrid([564, 242, 758, 379], valueAxis(-4.78, 4.68, b2XTicks, signed, TS, 5, false), valueAxis(-14.3, 83.6, b2YTicks, plain, 13, 5, true));
  blob(g, b3GrayCore, GRAY);
  blob(g, b3BlackL, BLACK); blob(g, b3BlackR, BLACK);
  blob(g, b3BlueCore, BLUE); blob(g, b3RedCore, RED);
  scatter(g, b3Blue, BLUE, 3); scatter(g, b3Red, RED, 3);
  thresholds(g, -4.78, 4.68, -14.3, 83.6);

  // C scatters
  g = addGrid([78, 420, 334, 553], valueAxis(-10.9, 10.76, cXTicks, signed, TS, 6, false), valueAxis(-5.9, 5.5, cYTicks, signed, TS, 5, true));
  blob(g, c1BlackL, BLACK); blob(g, c1BlackR, BLACK);
  blob(g, c1GrayCore, GRAY); blob(g, c1RedCore, RED); blob(g, c1BlueCore, BLUE);
  scatter(g, c1Black, BLACK, 3.5); scatter(g, c1Red, RED, 3.5); scatter(g, c1Blue, BLUE, 3.5);
  seg(g, c1Line, BLACK, 1.4);

  g = addGrid([79, 598, 337, 737], valueAxis(-11, 10.85, cXTicks, signed, TS, 6, false), valueAxis(-6, 5.85, cYTicks, signed, TS, 5, true));
  blob(g, c2BlackCore, BLACK); blob(g, c2GrayCore, GRAY); blob(g, c2RedCore, RED);
  scatter(g, c2Black, BLACK, 3.5); scatter(g, c2Red, RED, 3.5); scatter(g, c2Blue, BLUE, 3.5);
  seg(g, c2Line, BLACK, 1.4);

  // E volcano
  g = addGrid([368, 796, 582, 944], valueAxis(-11.5, 13.4, e3XTicks, signed, TS, 3, false), valueAxis(-.5, 10.6, e3YTicks, plain, 13, 5, true));
  thresholds(g, -11.5, 13.4, -.5, 10.6);
  blob(g, e3GrayCore, GRAY); scatter(g, e3Gray, GRAY, 2.5);
  blob(g, e3BlackL, BLACK); blob(g, e3BlackR, BLACK);
  blob(g, e3GreenCore, GREEN); blob(g, e3BrownCore, BROWN);
  scatter(g, e3Green, GREEN, 3); scatter(g, e3Brown, BROWN, 3);

  // E scatter
  g = addGrid([629, 804, 778, 944], valueAxis(-6.2, 6.7, e4XTicks, signed, TS, 3, false), valueAxis(-6.2, 6.1, cYTicks, signed, TS, 5, true));
  blob(g, e4BlackCore, BLACK); blob(g, e4GrayCore, GRAY);
  scatter(g, e4Black, BLACK, 3); scatter(g, e4Red, RED, 3); scatter(g, e4Blue, BLUE, 3);
  seg(g, e4Line, BLACK, 1.4);

  // Panel letters
  T(1, 20, "A", { size: 36, weight: "bold", color: "#000", align: "left" });
  T(1, 246, "B", { size: 36, weight: "bold", color: "#000", align: "left" });
  T(0, 423, "C", { size: 36, weight: "bold", color: "#000", align: "left" });
  T(349, 426, "D", { size: 36, weight: "bold", color: "#000", align: "left" });
  T(1, 797, "E", { size: 36, weight: "bold", color: "#000", align: "left" });

  // Titles
  T(237, 9.5, "S2R+ (microarray)", { size: 19 });
  T(442, 9.5, "S2R+ (3' RNA-Seq)", { size: 19 });
  T(649, 9.5, "flies (3' RNA-Seq)", { size: 19 });
  T(143, 23.5, "temp (°C)", { size: 14, align: "right" });
  T(151, 39, "replicate", { size: 14, align: "right" });
  T(198, 825, "temp (°C)", { size: 14, align: "right" });
  T(206, 840.5, "replicate", { size: 14, align: "right" });

  // Timeline titles
  T(8, 110, "temp (°C)", { size: 14, rot: Math.PI / 2 });
  T(69, 208, "time (h)", { size: 14 });
  T(25, 877, "temp (°C)", { size: 14, rot: Math.PI / 2 });
  T(99, 950, "time (h)", { size: 14 });

  // Axis titles
  [[223, 405], [461, 405], [661, 405]].forEach((p) => T(p[0], p[1], LOG2, { rich: R(12.5) }));
  T(68, 320, "{n|- log}{s|10}{n| }{i|P}", { rot: Math.PI / 2, rich: R(13) });
  T(46, 487, "{n|S2R+ 3' RNA-Seq}\n{n|log}{s|2}{n| fold change}", { rot: Math.PI / 2, rich: R(12.5) });
  T(207, 579.5, "S2R+ microarray", { size: 12.5 });
  T(207, 595, LOG2, { rich: R(12.5) });
  T(46, 667, "{n|S2R+ 3' RNA-Seq}\n{n|log}{s|2}{n| fold change}", { rot: Math.PI / 2, rich: R(12.5) });
  T(213, 763, "flies 3' RNA-Seq", { size: 12.5 });
  T(213, 778.5, LOG2, { rich: R(12.5) });
  T(340, 860, "{n|- log}{s|10}{n| }{i|P}", { rot: Math.PI / 2, rich: R(13) });
  T(432, 969, "HB10 vs S2R+", { size: 12.5 });
  T(529, 968.5, LOG2, { rich: R(12.5) });
  T(708, 968.5, "{n|S2R+ log}{s|2}{n| fold change}", { rich: R(12.5) });
  T(603, 877, "{n|HB10  log}{s|2}{n| fold change}", { rot: Math.PI / 2, rich: R(12.5) });

  // Counts
  T(148, 262, "698", { color: "#1f50f0" });
  T(283, 262, "1287", { color: "#f01c1c" });
  T(401, 260, "215", { color: "#1f50f0" });
  T(505, 260, "302", { color: "#f01c1c" });
  T(607, 260, "139", { color: "#1f50f0" });
  T(715, 260, "262", { color: "#f01c1c" });

  // r values
  T(100, 452, "{i|r}{n| = 0.7}", { align: "left", rich: R(19) });
  T(100, 634, "{i|r}{n| = 0.25}", { align: "left", rich: R(19) });
  T(647, 818, "{i|r}{n| = 0.36}", { align: "left", rich: R(19) });

  // Venn
  const arc = (cx: number, cy: number, start: number, end: number, color: string) =>
    graphic.push({
      type: "arc", x: cx, y: cy, scaleY: 0.95, silent: true, z: 6,
      shape: { cx: 0, cy: 0, r: 63, startAngle: (start * Math.PI) / 180, endAngle: (end * Math.PI) / 180, clockwise: true },
      style: { stroke: color, lineWidth: 2.7, fill: "none" },
    });
  const DARK = "#2a7a12", BRIGHT = "#35f012", FOREST = "#1f8010", TAN = "#b97a2b";
  arc(440, 498, 178, 488, DARK);
  arc(486, 498, -7, 299, BRIGHT);
  arc(653, 498, 0, 360, DARK);
  arc(699, 498, 0, 360, BRIGHT);
  arc(440, 675, 173, 484, FOREST);
  arc(485, 675, -6, 309, TAN);
  arc(662, 675, 0, 360, FOREST);
  arc(708, 675, 0, 360, TAN);

  T(463, 486, "77", { size: 19 });
  T(463, 509, "(26%)", { size: 19 });
  T(678, 486, "73", { size: 19 });
  T(678, 509, "(24%)", { size: 19 });
  T(463, 666, "11", { size: 19 });
  T(463, 689, "(4%)", { size: 19 });
  T(682, 664, "25", { size: 19 });
  T(682, 687, "(8%)", { size: 19 });
  T(454, 587, "top 300 CoolDown", { size: 16.5 });
  T(692, 587, "top 300 CoolUp", { size: 16.5 });
  const TEAL = "#1f6b47";
  T(351, 515, "S2R+", { size: 19, align: "left", color: TEAL });
  T(351, 537, "3' RNA-Seq", { size: 14.5, align: "left", color: TEAL });
  T(505, 456, "S2R+", { size: 19, align: "left", color: "#3ee81a" });
  T(505, 478, "microarray", { size: 14.5, align: "left", color: "#3ee81a" });
  T(506, 637, "flies", { size: 19, align: "left", color: "#b3752f" });
  T(506, 659, "3' RNA-Seq", { size: 14.5, align: "left", color: "#b3752f" });
  T(351, 695, "S2R+", { size: 19, align: "left", color: TEAL });
  T(351, 717, "3' RNA-Seq", { size: 14.5, align: "left", color: TEAL });

  return {
    animation: false,
    backgroundColor: "#fff",
    visualMap: {
      show: false, type: "continuous", min: 0.75, max: 1, seriesIndex: heatSeries, dimension: 2,
      inRange: { color: ["#ffffff", "#000000"] },
    },
    grid, xAxis, yAxis, series, graphic,
  };
}

export default function App() {
  const ref = useRef<HTMLDivElement>(null);
  useEffect(() => {
    const chart = echarts.init(ref.current!, undefined, { renderer: "svg" });
    chart.setOption(buildOption() as any);
    return () => chart.dispose();
  }, []);
  return <div ref={ref} style={{ position: "absolute", left: 0, top: 0, width: 778, height: 979 }} />;
}
